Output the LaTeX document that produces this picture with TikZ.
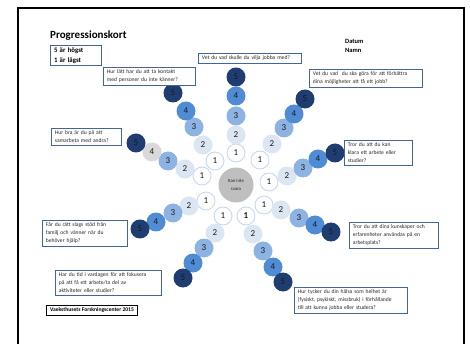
\documentclass[tikz,border=0pt]{standalone}
\usepackage{fontspec}
\setmainfont{Carlito}
\definecolor{fivec}{RGB}{31,61,112}
\definecolor{fourc}{RGB}{80,140,212}
\definecolor{threec}{RGB}{141,179,226}
\definecolor{twoc}{RGB}{220,230,242}
\definecolor{onec}{RGB}{198,217,241}
\definecolor{greyfour}{RGB}{217,217,217}
\definecolor{midgrey}{RGB}{191,191,191}
\definecolor{boxblue}{RGB}{68,102,150}
\definecolor{numtext}{RGB}{25,25,30}
\definecolor{qtext}{RGB}{40,40,40}

\begin{document}
\begin{tikzpicture}[x=1pt,y=-1pt]
	\tikzstyle{every node}=[inner sep=0pt]
	\tikzstyle{dot}=[circle, minimum size=19pt, font=\fontsize{9}{9}\selectfont, text=numtext]
	\tikzstyle{lev1}=[dot, draw=onec, line width=0.9pt, fill=white, minimum size=18pt]
	\tikzstyle{lev2}=[dot, fill=twoc]
	\tikzstyle{lev3}=[dot, fill=threec]
	\tikzstyle{lev4}=[dot, fill=fourc]
	\tikzstyle{lev4g}=[dot, fill=greyfour]
	\tikzstyle{lev5}=[dot, fill=fivec]
	\tikzstyle{qbox}=[draw=boxblue, line width=0.8pt, fill=white, anchor=north west, align=left, inner xsep=3.5pt, inner ysep=2.5pt, font=\fontsize{5.6}{8}\selectfont, text=qtext]
	\useasboundingbox (0,0) rectangle (470,344);
	\draw[line width=1.3pt] (18,344) -- (18,8) -- (464,8) -- (464,344);
	% heading
	\draw (50,36) node (title) [anchor=west, font=\bfseries\fontsize{11}{13}\selectfont] {Progressionskort};
	\draw (50,45) node (key) [qbox, line width=1pt, text width=44pt, text=black, font=\bfseries\fontsize{6.8}{9.5}\selectfont] {5 är högst\\1 är lägst};
	\draw (345,41) node (datum) [anchor=west, font=\bfseries\fontsize{6.5}{8}\selectfont] {Datum};
	\draw (345,50) node (namn) [anchor=west, font=\bfseries\fontsize{6.5}{8}\selectfont] {Namn};
	% centre
	\draw (236,185) node (mid) [circle, fill=midgrey, minimum size=35pt, align=center, text=qtext, font=\fontsize{4.8}{7.5}\selectfont] {Kan inte\\svara};
	% spokes
	\draw (215,161) node (kon1) [lev1] {1};
	\draw (203,145) node (kon2) [lev2] {2};
	\draw (194,127) node (kon3) [lev3] {3};
	\draw (186,111) node (kon4) [lev4] {4};
	\draw (173,93) node (kon5) [lev5] {5};
	\draw (236,153) node (job1) [lev1] {1};
	\draw (236,135) node (job2) [lev2] {2};
	\draw (236,116) node (job3) [lev3] {3};
	\draw (236,96) node (job4) [lev4] {4};
	\draw (236,77) node (job5) [lev5] {5};
	\draw (260,160) node (mojl1) [lev1] {1};
	\draw (272,144) node (mojl2) [lev2] {2};
	\draw (284,128) node (mojl3) [lev3] {3};
	\draw (294,114) node (mojl4) [lev4] {4};
	\draw (305,99) node (mojl5) [lev5] {5};
	\draw (269,182) node (kla1) [lev1] {1};
	\draw (287,176) node (kla2) [lev2] {2};
	\draw (303,168) node (kla3) [lev3] {3};
	\draw (318,159) node (kla4) [lev4] {4};
	\draw (335,153) node (kla5) [lev5] {5};
	\draw (264,205) node (kun1) [lev1] {1};
	\draw (281,210) node (kun2) [lev2] {2};
	\draw (299,218) node (kun3) [lev3] {3};
	\draw (315,225) node (kun4) [lev4] {4};
	\draw (331,232) node (kun5) [lev5] {5};
	\draw (246,216) node (hal1) [lev1, font=\bfseries\fontsize{9}{9}\selectfont] {1};
	\draw (253,234) node (hal2) [lev2] {2};
	\draw (263,251) node (hal3) [lev3] {3};
	\draw (273,267) node (hal4) [lev4] {4};
	\draw (283,282) node (hal5) [lev5] {5};
	\draw (223,216) node (tid1) [lev1] {1};
	\draw (215,233) node (tid2) [lev2] {2};
	\draw (204,248) node (tid3) [lev3] {3};
	\draw (193,263) node (tid4) [lev4] {4};
	\draw (183,278) node (tid5) [lev5] {5};
	\draw (206,201) node (sto1) [lev1] {1};
	\draw (189,206) node (sto2) [lev2] {2};
	\draw (173,213) node (sto3) [lev3] {3};
	\draw (156,222) node (sto4) [lev4] {4};
	\draw (140,229) node (sto5) [lev5] {5};
	\draw (202,176) node (sam1) [lev1] {1};
	\draw (185,169) node (sam2) [lev2] {2};
	\draw (168,161) node (sam3) [lev3] {3};
	\draw (152,152) node (sam4) [lev4g] {4};
	\draw (136,143) node (sam5) [lev5] {5};
	% questions
	\draw (103,67) node (qkon) [qbox, text width=85pt] {Hur lätt har du att ta kontakt\\med personer du inte känner?};
	\draw (198,53) node (qjob) [qbox, text width=96pt] {Vet du vad skulle du vilja jobba med?};
	\draw (309,69) node (qmojl) [qbox, text width=106pt] {Vet du vad \ du ska göra för att förbättra\\dina möjligheter att få ett jobb?};
	\draw (344,140) node (qkla) [qbox, text width=61pt] {Tror du att du kan\\klara ett arbete eller\\studier?};
	\draw (349,222) node (qkun) [qbox, text width=82pt] {Tror du att dina kunskaper och\\erfarenheter användas på en\\arbetsplats?};
	\draw (294,287) node (qhal) [qbox, text width=106pt] {Hur tycker du din hälsa som helhet är\\(fysiskt, psykiskt, missbruk) i förhållande\\till att kunna jobba eller studera?};
	\draw (55,270) node (qtid) [qbox, text width=99pt] {Har du tid i vardagen för att fokusera\\på att få ett arbete/ta del av\\aktiviteter eller studier?};
	\draw (42,220) node (qsto) [qbox, text width=78pt] {Får du rätt slags stöd från\\familj och vänner när du\\behöver hjälp?};
	\draw (51,128) node (qsam) [qbox, text width=63pt] {Hur bra är du på att\\samarbeta med andra?};
	\draw (46,305) node (src) [qbox, draw=black, line width=1pt, text=black, font=\bfseries\fontsize{5.6}{8}\selectfont] {Vaeksthusets Forskningscenter 2015};
\end{tikzpicture}
\end{document}
